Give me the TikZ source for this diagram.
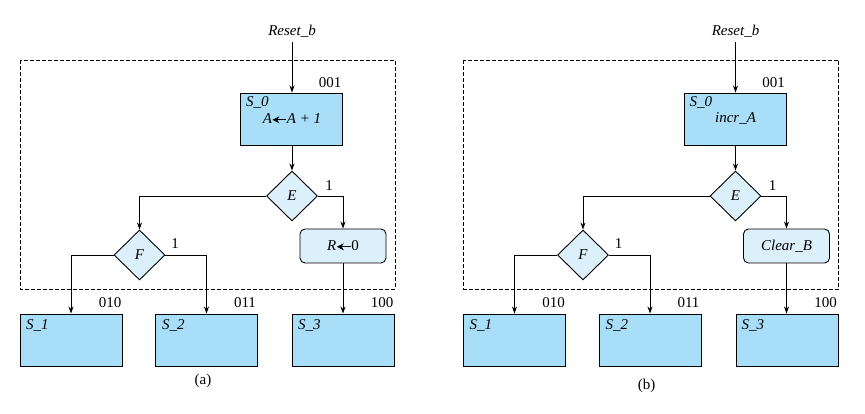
\documentclass[tikz,border=0pt]{standalone}
\usepackage{fontspec}
\setmainfont{Liberation Serif}
\usetikzlibrary{shapes.geometric,arrows.meta}
\definecolor{boxblue}{HTML}{A8DEF7}
\definecolor{lightblue}{HTML}{DCF0FB}
\newcommand{\la}{\tikz[baseline=-0.6ex]\draw[{Stealth[length=7pt,width=7pt]}-,line width=1pt](0,0)--(14pt,0);}
\tikzset{
  every node/.style={font=\fontsize{15}{17}\selectfont},
  statebox/.style={draw,line width=0.9pt,fill=boxblue,minimum width=102pt,minimum height=52pt,inner sep=0pt},
  decbox/.style={draw,line width=0.9pt,fill=lightblue,diamond,minimum width=51pt,minimum height=50pt,inner sep=0pt},
  condbox/.style={draw,line width=0.9pt,fill=lightblue,rounded corners=5pt,minimum width=86pt,minimum height=34pt,inner sep=0pt},
  conn/.style={line width=0.9pt,-{Stealth[length=7pt,width=5pt]}},
  frame/.style={line width=0.7pt,dash pattern=on 4pt off 2pt},
  lbl/.style={inner sep=0pt}
}
% #1 prefix, #2 x shift, #3 S0 action, #4 conditional box text, #5 caption, #6 caption y
\newcommand{\panel}[6]{%
\begin{scope}[xshift=#2]
  \draw[frame] (20,60) rectangle (395,289);
  \node[lbl] (#1reset) at (292,31) {\itshape Reset\_b};
  \coordinate (#1rtop) at (292,42);
  \node[statebox] (#1S0) at (291.5,119) {};
  \node[lbl,anchor=north west] (#1S0t) at (246,96) {\itshape S\_0};
  \node[lbl] (#1S0a) at (292,119) {#3};
  \node[lbl] (#1c001) at (330,83) {001};
  \node[decbox] (#1E) at (292,196) {\itshape E};
  \node[lbl] (#1one1) at (329,186) {1};
  \node[decbox] (#1F) at (139.5,255) {\itshape F};
  \node[lbl] (#1one2) at (175,244) {1};
  \node[condbox] (#1R) at (343,246) {#4};
  \node[statebox] (#1S1) at (71,340) {};
  \node[statebox] (#1S2) at (206.5,340) {};
  \node[statebox] (#1S3) at (343.5,340) {};
  \node[lbl,anchor=north west] (#1S1t) at (26,319) {\itshape S\_1};
  \node[lbl,anchor=north west] (#1S2t) at (162,319) {\itshape S\_2};
  \node[lbl,anchor=north west] (#1S3t) at (298,319) {\itshape S\_3};
  \node[lbl] (#1c010) at (110,303) {010};
  \node[lbl] (#1c011) at (245,303) {011};
  \node[lbl] (#1c100) at (382,303) {100};
  \node[lbl] (#1cap) at (203,#6) {#5};
  \draw[conn] (#1rtop) -- (#1S0.north -| #1rtop);
  \draw[conn] (#1S0.south -| #1E) -- (#1E.north);
  \draw[conn] (#1E.west) -| (#1F.north);
  \draw[conn] (#1E.east) -| (#1R.north);
  \draw[conn] (#1F.west) -| (#1S1.north);
  \draw[conn] (#1F.east) -| (#1S2.north);
  \draw[conn] (#1R.south) -- (#1S3.north -| #1R.south);
\end{scope}}
\begin{document}
\begin{tikzpicture}[x=1pt,y=-1pt]
\useasboundingbox (0,0) rectangle (865,414);
\panel{a}{0pt}{\itshape A\la A + 1}{\itshape R\la\upshape 0}{(a)}{381}
\panel{b}{443.5pt}{\itshape incr\_A}{\itshape Clear\_B}{(b)}{386}
\end{tikzpicture}
\end{document}
